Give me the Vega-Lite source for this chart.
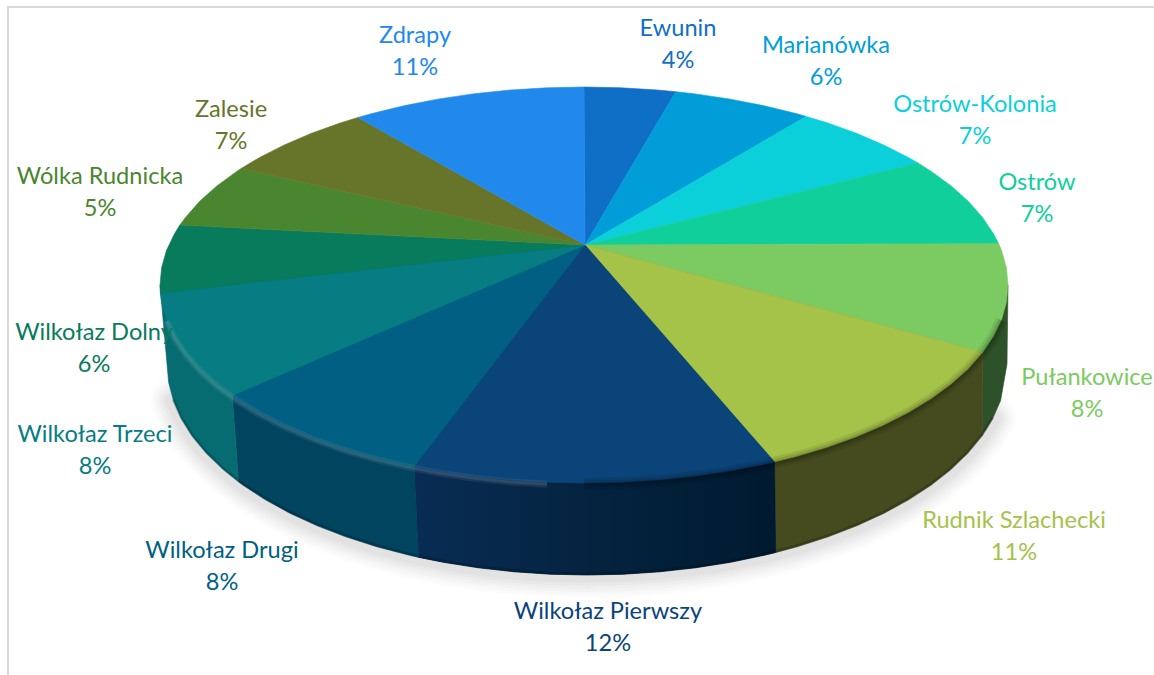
{"$schema":"https://vega.github.io/schema/vega-lite/v6.json","width":1154,"height":675,"padding":0,"autosize":"none","background":"white","config":{"view":{"stroke":null}},
"datasets":{
"frame":[{"x":[-576,-576,570],"y":[-390,278,278]}],
"shadow":[{"x":[408.7,398.2,383.6,366.7,347.1,324.7,300,273,243.9,213,180.5,146.6,111.7,75.9,39.6,3,-33.6,-69.9,-105.7,-140.6,-174.5,-207,-237.9,-267,-294,-318.7,-341.1,-360.7,-377.6,-391.7,-402.7,-410.6],"y":[-133.6,-150.5,-168.2,-184.5,-200,-214.6,-228.2,-240.6,-251.8,-261.7,-270.2,-277.3,-282.8,-286.8,-289.2,-290,-289.2,-286.8,-282.8,-277.3,-270.2,-261.7,-251.8,-240.6,-228.2,-214.6,-200,-184.5,-168.2,-151.2,-133.6,-115.6]}],
"walls":[
{"slice":"Pułankowice","x":[1,424,423,416.6,408.7,398.2,398.9],"y":[40,0,-79,-115.6,-133.6,-150.5,-67.1]},
{"slice":"Rudnik Szlachecki","x":[1,398.9,398.2,383.6,366.7,347.1,324.7,300,273,243.9,213,191.7,190.5],"y":[40,-67.1,-150.5,-168.2,-184.5,-200,-214.6,-228.2,-240.6,-251.8,-261.7,-267.5,-176.9]},
{"slice":"Wilkołaz Pierwszy","x":[1,190.5,191.7,180.5,146.6,111.7,75.9,39.6,3,-33.6,-69.9,-105.7,-140.6,-165.1,-169.7],"y":[40,-176.9,-267.5,-270.2,-277.3,-282.8,-286.8,-289.2,-290,-289.2,-286.8,-282.8,-277.3,-272.4,-181.4]},
{"slice":"Wilkołaz Drugi","x":[1,-169.7,-165.1,-174.5,-207,-237.9,-267,-294,-318.7,-341.1,-345.5,-351.8],"y":[40,-181.4,-272.4,-270.2,-261.7,-251.8,-240.6,-228.2,-214.6,-200,-196.8,-110.5]},
{"slice":"Wilkołaz Trzeci","x":[1,-351.8,-345.5,-360.7,-377.6,-391.7,-402.7,-410.6,-415.4,-417,-424],"y":[40,-110.5,-196.8,-184.5,-168.2,-151.2,-133.6,-115.6,-97.4,-79,0]}
],
"faces":[
{"slice":"Ewunin","x":[1,0,37,73.6,91.8],"y":[40,198,197.2,195,193.3]},
{"slice":"Marianówka","x":[1,91.8,109.7,145,179.2,212,222.2],"y":[40,193.3,191.3,186.1,179.4,171.5,168.6]},
{"slice":"Ostrów-Kolonia","x":[1,222.2,243.2,272.5,299.8,324.8,334.1],"y":[40,168.6,162.2,151.7,140,127.3,121.9]},
{"slice":"Ostrów","x":[1,334.1,347.3,367.2,384.3,398.4,409.5,414.7],"y":[40,121.9,113.6,99,83.7,67.7,51.2,41.2]},
{"slice":"Pułankowice","x":[1,414.7,417.6,422.4,424,422.4,417.6,409.5,398.9],"y":[40,41.2,34.4,17.3,0,-17.3,-34.4,-51.2,-67.1]},
{"slice":"Rudnik Szlachecki","x":[1,398.9,384.3,367.2,347.3,324.8,299.8,272.5,243.2,212,190.5],"y":[40,-67.1,-83.7,-99,-113.6,-127.3,-140,-151.7,-162.2,-171.5,-176.9]},
{"slice":"Wilkołaz Pierwszy","x":[1,190.5,179.2,145,109.7,73.6,37,0,-37,-73.6,-109.7,-145,-169.7],"y":[40,-176.9,-179.4,-186.1,-191.3,-195,-197.2,-198,-197.2,-195,-191.3,-186.1,-181.4]},
{"slice":"Wilkołaz Drugi","x":[1,-169.7,-179.2,-212,-243.2,-272.5,-299.8,-324.8,-347.3,-351.8],"y":[40,-181.4,-179.4,-171.5,-162.2,-151.7,-140,-127.3,-113.6,-110.5]},
{"slice":"Wilkołaz Trzeci","x":[1,-351.8,-367.2,-384.3,-398.4,-409.5,-417.6,-422.4,-423.7],"y":[40,-110.5,-99,-83.7,-67.7,-51.2,-34.4,-17.3,-7.9]},
{"slice":"Wilkołaz Dolny","x":[1,-423.7,-424,-422.4,-417.6,-409.5,-404.2],"y":[40,-7.9,0,17.3,34.4,51.2,59.9]},
{"slice":"Wólka Rudnicka","x":[1,-404.2,-398.4,-384.3,-367.2,-347.3,-343],"y":[40,59.9,67.7,83.7,99,113.6,116.4]},
{"slice":"Zalesie","x":[1,-343,-324.8,-299.8,-272.5,-243.2,-226],"y":[40,116.4,127.3,140,151.7,162.2,167.5]},
{"slice":"Zdrapy","x":[1,-226,-212,-179.2,-145,-109.7,-73.6,-37,0],"y":[40,167.5,171.5,179.4,186.1,191.3,195,197.2,198]}
],
"rimLight":[{"x":[-37,-73.6,-109.7,-145,-179.2,-212,-243.2,-272.5,-299.8,-324.8,-347.3,-367.2,-384.3,-398.4,-409.5,-417.6],"y":[-197.2,-195,-191.3,-186.1,-179.4,-171.5,-162.2,-151.7,-140,-127.3,-113.6,-99,-83.7,-67.7,-51.2,-34.4]}],
"rimDark":[{"x":[417.6,409.5,398.9,384.3,367.2,347.3,324.8,299.8,272.5,243.2,212,179.2,145,109.7,73.6,37,0],"y":[-34.4,-51.2,-67.1,-83.7,-99,-113.6,-127.3,-140,-151.7,-162.2,-171.5,-179.4,-186.1,-191.3,-195,-197.2,-198]}],
"labels":[
{"slice":"Ewunin","share":"4%","x":94,"y":241},
{"slice":"Marianówka","share":"6%","x":242,"y":224},
{"slice":"Ostrów-Kolonia","share":"7%","x":391,"y":165},
{"slice":"Ostrów","share":"7%","x":453,"y":87},
{"slice":"Pułankowice","share":"8%","x":503,"y":-108},
{"slice":"Rudnik Szlachecki","share":"11%","x":430,"y":-251},
{"slice":"Wilkołaz Pierwszy","share":"12%","x":24,"y":-342},
{"slice":"Wilkołaz Drugi","share":"8%","x":-362,"y":-281},
{"slice":"Wilkołaz Trzeci","share":"8%","x":-489,"y":-165},
{"slice":"Wilkołaz Dolny","share":"6%","x":-490,"y":-63},
{"slice":"Wólka Rudnicka","share":"5%","x":-484,"y":93},
{"slice":"Zalesie","share":"7%","x":-353,"y":160},
{"slice":"Zdrapy","share":"11%","x":-169,"y":234}
]},
"encoding":{
"x":{"field":"x","type":"quantitative","axis":null,"scale":{"domain":[-584,570],"nice":false,"zero":false}},
"y":{"field":"y","type":"quantitative","axis":null,"scale":{"domain":[-390,285],"nice":false,"zero":false}}
},
"layer":[
{"data":{"name":"frame"},"transform":[{"flatten":["x","y"]},{"window":[{"op":"row_number","as":"i"}]}],"mark":{"type":"line","stroke":"#d9d9d9","strokeWidth":2},"encoding":{"order":{"field":"i"}}},
{"data":{"name":"shadow"},"transform":[{"flatten":["x","y"]},{"window":[{"op":"row_number","as":"i"}]}],"mark":{"type":"line","stroke":"#000000","strokeOpacity":0.012,"strokeWidth":46,"strokeCap":"round","yOffset":0},"encoding":{"order":{"field":"i"}}},
{"data":{"name":"shadow"},"transform":[{"flatten":["x","y"]},{"window":[{"op":"row_number","as":"i"}]}],"mark":{"type":"line","stroke":"#000000","strokeOpacity":0.015,"strokeWidth":40,"strokeCap":"round","yOffset":0},"encoding":{"order":{"field":"i"}}},
{"data":{"name":"shadow"},"transform":[{"flatten":["x","y"]},{"window":[{"op":"row_number","as":"i"}]}],"mark":{"type":"line","stroke":"#000000","strokeOpacity":0.018,"strokeWidth":34,"strokeCap":"round","yOffset":0},"encoding":{"order":{"field":"i"}}},
{"data":{"name":"shadow"},"transform":[{"flatten":["x","y"]},{"window":[{"op":"row_number","as":"i"}]}],"mark":{"type":"line","stroke":"#000000","strokeOpacity":0.02,"strokeWidth":28,"strokeCap":"round","yOffset":0},"encoding":{"order":{"field":"i"}}},
{"data":{"name":"shadow"},"transform":[{"flatten":["x","y"]},{"window":[{"op":"row_number","as":"i"}]}],"mark":{"type":"line","stroke":"#000000","strokeOpacity":0.022,"strokeWidth":22,"strokeCap":"round","yOffset":0},"encoding":{"order":{"field":"i"}}},
{"data":{"name":"shadow"},"transform":[{"flatten":["x","y"]},{"window":[{"op":"row_number","as":"i"}]}],"mark":{"type":"line","stroke":"#000000","strokeOpacity":0.025,"strokeWidth":16,"strokeCap":"round","yOffset":0},"encoding":{"order":{"field":"i"}}},
{"data":{"name":"walls"},"transform":[{"flatten":["x","y"]},{"window":[{"op":"row_number","as":"i"}]}],"mark":{"type":"line","strokeWidth":0.6,"interpolate":"linear-closed"},"encoding":{"order":{"field":"i"},
"fill":{"field":"slice","legend":null,"scale":{"domain":["Pułankowice","Rudnik Szlachecki","Wilkołaz Pierwszy","Wilkołaz Drugi","Wilkołaz Trzeci"],"range":["#2D5128","#454B1E","#04233F","#00445F","#066C72"]}},
"stroke":{"field":"slice","legend":null,"scale":{"domain":["Pułankowice","Rudnik Szlachecki","Wilkołaz Pierwszy","Wilkołaz Drugi","Wilkołaz Trzeci"],"range":["#2D5128","#454B1E","#04233F","#00445F","#066C72"]}}}},
{"data":{"name":"walls"},"transform":[{"filter":"datum.slice === 'Wilkołaz Pierwszy'"},{"flatten":["x","y"]},{"window":[{"op":"row_number","as":"i"}]}],"mark":{"type":"line","strokeWidth":0,"interpolate":"linear-closed","fill":{"gradient":"linear","x1":0,"y1":0,"x2":1,"y2":0,"stops":[{"offset":0,"color":"#082C54"},{"offset":0.5,"color":"#04233F"},{"offset":1,"color":"#001A30"}]}},"encoding":{"order":{"field":"i"}}},
{"data":{"name":"shadow"},"transform":[{"flatten":["x","y"]},{"window":[{"op":"row_number","as":"i"}]}],"mark":{"type":"line","stroke":"#000000","strokeOpacity":0.18,"strokeWidth":3,"yOffset":-1},"encoding":{"order":{"field":"i"}}},
{"data":{"name":"faces"},"transform":[{"flatten":["x","y"]},{"window":[{"op":"row_number","as":"i"}]}],"mark":{"type":"line","strokeWidth":0.6,"interpolate":"linear-closed"},"encoding":{"order":{"field":"i"},
"fill":{"field":"slice","legend":null,"scale":{"domain":["Ewunin","Marianówka","Ostrów-Kolonia","Ostrów","Pułankowice","Rudnik Szlachecki","Wilkołaz Pierwszy","Wilkołaz Drugi","Wilkołaz Trzeci","Wilkołaz Dolny","Wólka Rudnicka","Zalesie","Zdrapy"],"range":["#0F6FC6","#009DD9","#0BD0D9","#10CF9B","#7CCA62","#A5C249","#0A4479","#005F82","#077C83","#087B5C","#4A862F","#66752A","#2189EC"]}},
"stroke":{"field":"slice","legend":null,"scale":{"domain":["Ewunin","Marianówka","Ostrów-Kolonia","Ostrów","Pułankowice","Rudnik Szlachecki","Wilkołaz Pierwszy","Wilkołaz Drugi","Wilkołaz Trzeci","Wilkołaz Dolny","Wólka Rudnicka","Zalesie","Zdrapy"],"range":["#0F6FC6","#009DD9","#0BD0D9","#10CF9B","#7CCA62","#A5C249","#0A4479","#005F82","#077C83","#087B5C","#4A862F","#66752A","#2189EC"]}}}},
{"data":{"name":"rimDark"},"transform":[{"flatten":["x","y"]},{"window":[{"op":"row_number","as":"i"}]}],"mark":{"type":"line","stroke":"#000000","strokeOpacity":0.08,"strokeWidth":12,"yOffset":1},"encoding":{"order":{"field":"i"}}},
{"data":{"name":"rimDark"},"transform":[{"flatten":["x","y"]},{"window":[{"op":"row_number","as":"i"}]}],"mark":{"type":"line","stroke":"#000000","strokeOpacity":0.1,"strokeWidth":7,"yOffset":1},"encoding":{"order":{"field":"i"}}},
{"data":{"name":"rimDark"},"transform":[{"flatten":["x","y"]},{"window":[{"op":"row_number","as":"i"}]}],"mark":{"type":"line","stroke":"#000000","strokeOpacity":0.1,"strokeWidth":3,"yOffset":1},"encoding":{"order":{"field":"i"}}},
{"data":{"name":"rimLight"},"transform":[{"flatten":["x","y"]},{"window":[{"op":"row_number","as":"i"}]}],"mark":{"type":"line","stroke":"#ffffff","strokeOpacity":0.07,"strokeWidth":7,"yOffset":2},"encoding":{"order":{"field":"i"}}},
{"data":{"name":"rimLight"},"transform":[{"flatten":["x","y"]},{"window":[{"op":"row_number","as":"i"}]}],"mark":{"type":"line","stroke":"#ffffff","strokeOpacity":0.1,"strokeWidth":3,"yOffset":2},"encoding":{"order":{"field":"i"}}},
{"data":{"name":"labels"},"mark":{"type":"text","font":"Lato","fontSize":23.6,"baseline":"bottom","dy":-3},"encoding":{"text":{"field":"slice"},
"fill":{"field":"slice","legend":null,"scale":{"domain":["Ewunin","Marianówka","Ostrów-Kolonia","Ostrów","Pułankowice","Rudnik Szlachecki","Wilkołaz Pierwszy","Wilkołaz Drugi","Wilkołaz Trzeci","Wilkołaz Dolny","Wólka Rudnicka","Zalesie","Zdrapy"],"range":["#0F6FC6","#009DD9","#0BD0D9","#10CF9B","#7CCA62","#A5C249","#0A4479","#005F82","#077C83","#087B5C","#4A862F","#66752A","#2189EC"]}}}},
{"data":{"name":"labels"},"mark":{"type":"text","font":"Lato","fontSize":23.6,"baseline":"top","dy":5},"encoding":{"text":{"field":"share"},
"fill":{"field":"slice","legend":null,"scale":{"domain":["Ewunin","Marianówka","Ostrów-Kolonia","Ostrów","Pułankowice","Rudnik Szlachecki","Wilkołaz Pierwszy","Wilkołaz Drugi","Wilkołaz Trzeci","Wilkołaz Dolny","Wólka Rudnicka","Zalesie","Zdrapy"],"range":["#0F6FC6","#009DD9","#0BD0D9","#10CF9B","#7CCA62","#A5C249","#0A4479","#005F82","#077C83","#087B5C","#4A862F","#66752A","#2189EC"]}}}}
],
"resolve":{"scale":{"fill":"independent","stroke":"independent"}}}
